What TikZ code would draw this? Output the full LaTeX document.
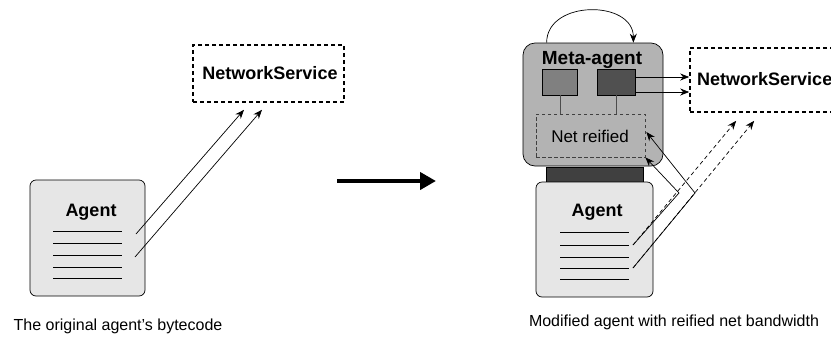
\documentclass[tikz,border=0pt]{standalone}
\usepackage{fontspec}
\setmainfont{Liberation Sans}
\usetikzlibrary{arrows.meta,calc,positioning}
\definecolor{agentgray}{RGB}{230,230,230}
\definecolor{metagray}{RGB}{179,179,179}
\definecolor{hookgray}{RGB}{128,128,128}
\definecolor{netgray}{RGB}{80,80,80}
\definecolor{bargray}{RGB}{64,64,64}

\begin{document}
\begin{tikzpicture}[
    x=1pt, y=-1pt,
    agent/.style={rectangle, draw=black, line width=0.7pt, fill=agentgray, rounded corners=6pt, inner sep=0pt},
    meta/.style={rectangle, draw=black, line width=0.7pt, fill=metagray, rounded corners=12pt, inner sep=0pt},
    service/.style={rectangle, draw=black, line width=1.6pt, dash pattern=on 4pt off 3pt, inner sep=0pt},
    reified/.style={rectangle, draw=black!75, line width=0.8pt, dash pattern=on 3.5pt off 2.5pt, inner sep=0pt},
    hook/.style={rectangle, draw=black, line width=0.7pt, inner sep=0pt, minimum height=26pt},
    title/.style={anchor=base, inner sep=0pt, font=\fontsize{18}{20}\selectfont\bfseries},
    caption/.style={anchor=base, inner sep=0pt, font=\fontsize{16}{18}\selectfont},
    arrow/.style={-{Stealth[length=9pt,width=7pt]}, line width=0.7pt},
    link/.style={line width=0.8pt, black!70},
    code/.style={line width=0.8pt}
]
\useasboundingbox (0,0) rectangle (831,341);

% Left - original agent
\node[agent, minimum width=115pt, minimum height=116pt] (agentL) at (87.5,238) {};
\node[title] (agentLtitle) at (91,216) {Agent};
\foreach \y in {231,243,255,267,278}
    \draw[code] (53,\y) -- (122,\y);
\node[service, minimum width=151pt, minimum height=57pt] (nsL) at (268.5,73.5) {};
\node[title] (nsLtitle) at (270,79) {NetworkService};
\node[caption] (capL) at (118,330.5) {The original agent's bytecode};

\coordinate (outL1) at (136,234);
\coordinate (outL2) at (135,257);
\draw[arrow] (outL1) -- ($(nsL.south)+(-24.5,7)$);
\draw[arrow] (outL2) -- ($(nsL.south)+(-6.5,7)$);

% Transformation arrow
\coordinate (morphS) at (337,181);
\coordinate (morphE) at (436,181);
\draw[line width=4pt, -{Triangle[length=16pt,width=17pt]}] (morphS) -- (morphE);

% Right - modified agent
\node[meta, minimum width=140pt, minimum height=123pt] (meta) at (593,104.5) {};
\node[title, font=\fontsize{19}{21}\selectfont\bfseries] (metatitle) at (592,64) {Meta-agent};
\node[hook, fill=hookgray, minimum width=35pt] (box1) at (560,82) {};
\node[hook, fill=netgray, minimum width=38pt] (box2) at (616,82) {};
\node[reified, minimum width=109pt, minimum height=43pt] (netr) at (590.5,135.5) {};
\node[anchor=base, inner sep=0pt, font=\fontsize{17}{19}\selectfont] (netrtitle) at (590,142) {Net reified};
\draw[link] (box1.south) -- (box1.south |- netr.north);
\draw[link] (box2.south) -- (box2.south |- netr.north);

\node[rectangle, draw=black, line width=0.5pt, fill=bargray, inner sep=0pt,
      minimum width=97pt, minimum height=15pt] (bar) at (594.5,174.5) {};
\node[agent, minimum width=117pt, minimum height=115pt] (agentR) at (594.5,239.5) {};
\node[title] (agentRtitle) at (597,216) {Agent};
\foreach \y in {232,245,257,268,279}
    \draw[code] (560,\y) -- (629,\y);

\node[service, minimum width=180pt, minimum height=64pt] (nsR) at (780,80) {};
\node[title, anchor=base west] (nsRtitle) at (697,85) {NetworkService};
\node[caption] (capR) at (674,326) {Modified agent with reified net bandwidth};

% Self reflection loop
\draw[arrow] ($(meta.north west)+(24,0)$) .. controls +(0,-43) and +(0,-43) .. ($(meta.north east)+(-30,0)$);

% Calls out of the meta-agent
\draw[arrow] ($(box2.east)+(0,-5)$) -- ($(nsR.west)+(0,-3)$);
\draw[arrow] ($(box2.east)+(0,10)$) -- ($(nsR.west)+(0,12)$);

% Calls from the agent, redirected to the reified net
\coordinate (outR1) at (633,245);
\coordinate (outR2) at (633,268);
\draw[arrow] (outR1) -- ++(46,-52) -- (netr.south east);
\draw[arrow] (outR2) -- ++(62,-75) -- ($(netr.east)+(1,-3.5)$);
\draw[arrow, dash pattern=on 4pt off 3pt] (outR1) -- ($(nsR.south west)+(47,8)$);
\draw[arrow, dash pattern=on 4pt off 3pt] (outR2) -- ($(nsR.south west)+(65,8)$);

\end{tikzpicture}
\end{document}
